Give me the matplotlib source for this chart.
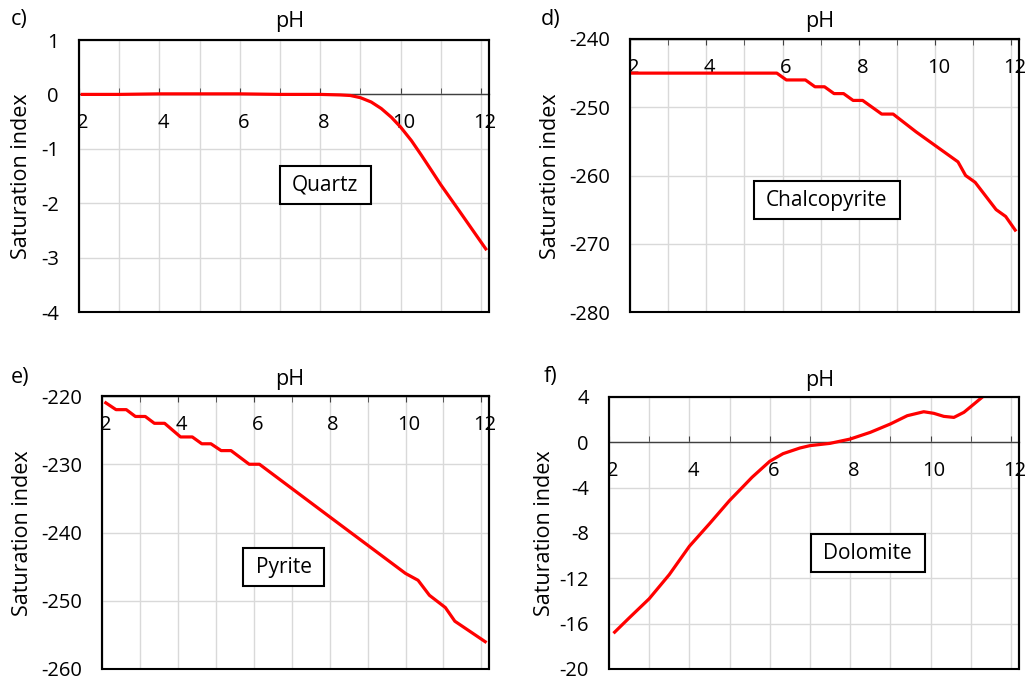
import matplotlib
matplotlib.use("Agg")
import matplotlib.pyplot as plt
from matplotlib.patches import Rectangle
from matplotlib.ticker import MultipleLocator
from matplotlib.transforms import ScaledTranslation

plt.rcParams["font.family"] = ["Open Sans", "DejaVu Sans"]

# ---- data: saturation index vs pH ----
quartz_ph = [2.08, 3.0, 4.0, 5.0, 6.0, 7.0, 8.0, 8.5, 8.75, 9.0, 9.27, 9.52,
             9.77, 10.0, 10.27, 10.52, 10.77, 11.0, 11.43, 11.77, 12.12]
quartz_si = [0.0, 0.0, 0.01, 0.01, 0.01, 0.0, 0.0, -0.01, -0.02, -0.06, -0.14,
             -0.26, -0.42, -0.6, -0.85, -1.12, -1.4, -1.66, -2.11, -2.47, -2.84]

chalco_ph = [2.0, 5.85, 6.1, 6.6, 6.85, 7.1, 7.35, 7.6, 7.85, 8.1, 8.6, 8.9,
             9.5, 10.0, 10.6, 10.8, 11.05, 11.6, 11.85, 12.1]
chalco_si = [-245, -245, -246, -246, -247, -247, -248, -248, -249, -249, -251,
             -251, -253.6, -255.6, -258, -260, -261, -265, -266, -268]

pyrite_ph = [2.1, 2.37, 2.64, 2.88, 3.14, 3.38, 3.65, 4.07, 4.38, 4.63, 4.87,
             5.14, 5.4, 5.88, 6.15, 8.0, 10.0, 10.33, 10.63, 11.05, 11.3, 12.1]
pyrite_si = [-221, -222, -222, -223, -223, -224, -224, -226, -226, -227, -227,
             -228, -228, -230, -230, -237.7, -246, -247, -249.2, -251, -253, -256]

dolo_ph = [2.14, 2.5, 3.0, 3.5, 4.0, 4.5, 5.0, 5.31, 5.56, 6.0, 6.33, 6.75,
           7.0, 7.5, 8.0, 8.5, 9.0, 9.42, 9.83, 10.08, 10.33, 10.58, 10.83,
           11.08, 11.29]
dolo_si = [-16.75, -15.5, -13.8, -11.67, -9.17, -7.18, -5.13, -4.0, -3.08,
           -1.67, -1.0, -0.5, -0.29, -0.09, 0.29, 0.88, 1.62, 2.35, 2.7, 2.56,
           2.29, 2.2, 2.65, 3.38, 4.0]

W, H = 1030, 682
fig = plt.figure(figsize=(W / 100, H / 100), dpi=100)

TICK_FS = 14.5
TITLE_FS = 15.5
BOX_FS = 15
RED = "#ff0000"
GRID = "#d9d9d9"


def axes_px(left, top, right, bottom):
    return fig.add_axes([left / W, 1 - bottom / H, (right - left) / W, (bottom - top) / H])


def panel(rect, ph, si, ylim, ystep, axis_at_top, name, name_xy):
    ax = axes_px(*rect)
    ax.set_xlim(2, 12.2)
    ax.set_ylim(*ylim)
    ax.xaxis.set_major_locator(MultipleLocator(2))
    ax.xaxis.set_minor_locator(MultipleLocator(1))
    ax.yaxis.set_major_locator(MultipleLocator(ystep))
    ax.grid(which="both", axis="x", color=GRID, lw=1)
    ax.grid(which="major", axis="y", color=GRID, lw=1)
    ax.set_axisbelow(True)

    for s in ("left", "right", "top"):
        ax.spines[s].set_color("black")
        ax.spines[s].set_linewidth(1.5)
    bot = ax.spines["bottom"]
    bot.set_color("#404040")
    bot.set_linewidth(1)
    if axis_at_top:
        bot.set_position(("axes", 1.0))
        ax.tick_params(axis="x", which="both", direction="out", length=4,
                       pad=10, color="#404040", labelsize=TICK_FS)
    else:
        bot.set_position(("data", 0))
        ax.tick_params(axis="x", which="both", direction="in", length=4.5,
                       pad=13.5, color="#404040", labelsize=TICK_FS)
    ax.tick_params(axis="y", length=0, pad=14.5, labelsize=TICK_FS)
    xt = ax.get_xticks()
    ax.set_xticks(xt)
    ax.set_xticklabels([f"{v:g}" for v in xt])
    yt = ax.get_yticks()
    ax.set_yticks(yt)
    ax.set_yticklabels([f"{v:g}" for v in yt])
    ax.set_xlim(2, 12.2)
    ax.set_ylim(*ylim)

    # x labels sit a little right of their ticks
    shift = ScaledTranslation(3.5 / 100, 0, fig.dpi_scale_trans)
    for t in ax.xaxis.get_major_ticks():
        t.label1.set_transform(t.label1.get_transform() + shift)

    # outer frame of the plot area
    ax.add_patch(Rectangle((0, 0), 1, 1, transform=ax.transAxes, fill=False,
                           ec="black", lw=1.5, zorder=6, clip_on=False))

    ax.plot(ph, si, color=RED, lw=2.3, zorder=4)

    txt = ax.text(name_xy[0], name_xy[1], name, ha="center", va="center",
                  fontsize=BOX_FS, zorder=8)
    return ax, txt, name_xy


panels = [
    panel((79, 40, 489, 312), quartz_ph, quartz_si, (-4, 1), 1, False,
          "Quartz", (8.13, -1.67)),
    panel((630, 39, 1019, 312), chalco_ph, chalco_si, (-280, -240), 10, True,
          "Chalcopyrite", (7.16, -263.6)),
    panel((102, 396, 489, 669), pyrite_ph, pyrite_si, (-260, -220), 10, True,
          "Pyrite", (6.79, -245.1)),
    panel((609, 397, 1019, 669), dolo_ph, dolo_si, (-20, 4), 4, False,
          "Dolomite", (8.44, -9.8)),
]

# framed name boxes, sized from the rendered text
fig.canvas.draw()
renderer = fig.canvas.get_renderer()
for ax, txt, (bx, by) in panels:
    tw = txt.get_window_extent(renderer).width
    bw, bh = (tw + 25) / 100, 38 / 100
    trans = fig.dpi_scale_trans + ScaledTranslation(bx, by, ax.transData)
    ax.add_patch(Rectangle((-bw / 2, -bh / 2), bw, bh, transform=trans,
                           fc="white", ec="black", lw=1.5, zorder=7))


def ftext(x, y, s, size, **kw):
    fig.text(x / W, 1 - y / H, s, fontsize=size, **kw)


# panel letters, pH titles and y-axis titles
for letter, lx, ly in (("c)", 19, 20), ("d)", 551, 20), ("e)", 20, 378), ("f)", 550, 377)):
    ftext(lx, ly, letter, TITLE_FS, ha="center", va="center")
for tx, ty in ((290, 22), (820, 22), (290, 380), (820, 381)):
    ftext(tx, ty, "pH", TITLE_FS, ha="center", va="center")
for yx, yy in ((22, 176), (551, 176), (23, 533), (545, 533)):
    ftext(yx, yy, "Saturation index", TITLE_FS, ha="center", va="center", rotation=90)

fig.savefig("out.png", dpi=100)
